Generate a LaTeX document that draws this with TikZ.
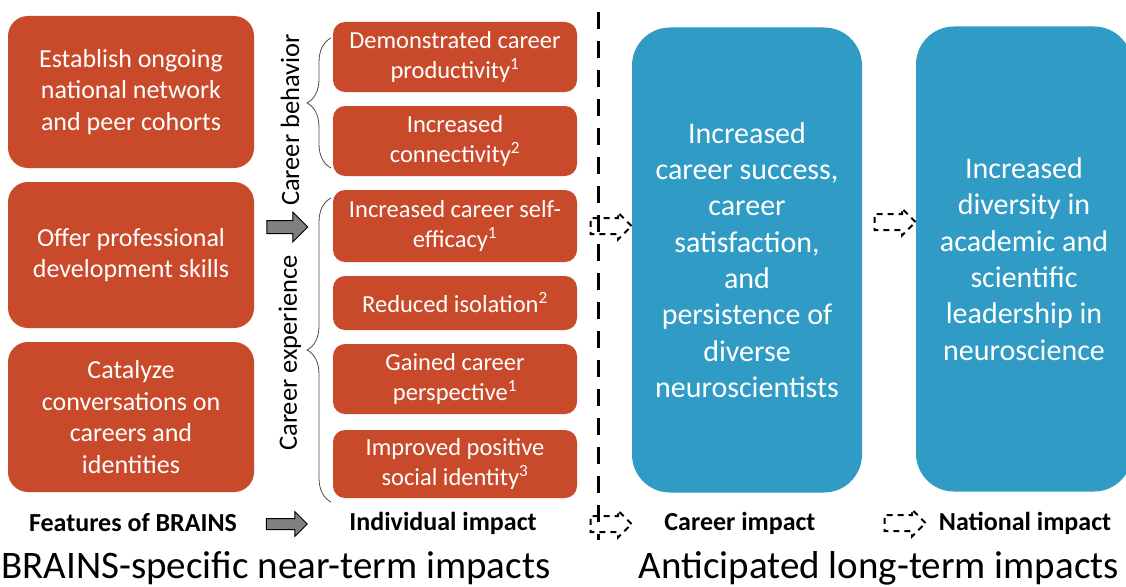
\documentclass[tikz,border=0pt]{standalone}
\usepackage{fontspec}
\setmainfont{Carlito}
\usetikzlibrary{shapes.arrows,decorations.pathreplacing,positioning}
\definecolor{brainsorange}{HTML}{C94A2B}
\definecolor{brainsblue}{HTML}{309BC4}

\begin{document}
\begin{tikzpicture}[
x=1pt,y=-1pt,
feature/.style={
  fill=brainsorange,
  draw=none,
  rounded corners=20pt,
  text=white,
  align=center,
  minimum width=246pt,
  font=\fontsize{26}{31.5}\selectfont
  },
impact/.style={
  fill=brainsorange,
  draw=none,
  rounded corners=12pt,
  text=white,
  align=center,
  minimum width=244pt,
  font=\fontsize{24.5}{30.5}\selectfont
  },
longterm/.style={
  fill=brainsblue,
  draw=none,
  rounded corners=38pt,
  text=white,
  align=center,
  minimum height=465pt,
  font=\fontsize{30}{36.3}\selectfont
  },
grayarrow/.style={
  single arrow,
  draw=black,
  fill=gray,
  line width=1pt,
  inner xsep=0pt,
  inner ysep=6pt,
  single arrow head extend=8.5pt,
  single arrow head indent=0pt,
  minimum height=41pt
  },
dasharrow/.style={
  single arrow,
  draw=black,
  fill=none,
  line width=2pt,
  dash pattern=on 6pt off 5pt,
  inner xsep=0pt,
  inner ysep=7pt,
  single arrow head extend=5.5pt,
  single arrow head indent=0pt,
  minimum height=41pt
  },
bracelabel/.style={
  rotate=90,
  font=\fontsize{26.5}{30}\selectfont
  },
heading/.style={
  font=\bfseries\fontsize{26}{30}\selectfont
  },
period/.style={
  font=\fontsize{39}{44}\selectfont
  },
brace/.style={
  decorate,
  decoration={brace,amplitude=24pt},
  draw=black!70,
  line width=0.8pt
  }
]
\clip (0,0) rectangle (1126,586);

% features of BRAINS
\node[feature, minimum height=152pt] (feat1) at (131,92)
  {Establish ongoing\\national network\\and peer cohorts};
\node[feature, minimum height=146pt] (feat2) at (131,255)
  {Offer professional\\development skills};
\node[feature, minimum height=150pt] (feat3) at (131,417)
  {Catalyze\\conversations on\\careers and\\identities};

% individual impact
\foreach \y/\h/\txt [count=\i] in {
  57/70/{Demonstrated career\\productivity\textsuperscript{1}},
  141/70/{Increased\\connectivity\textsuperscript{2}},
  226/72/{Increased career self-\\efficacy\textsuperscript{1}},
  303/54/{Reduced isolation\textsuperscript{2}},
  379/70/{Gained career\\perspective\textsuperscript{1}},
  464/68/{Improved positive\\social identity\textsuperscript{3}}}
  \node[impact, minimum height=\h pt] (ind\i) at (455,\y) {\txt};

% braces
\coordinate (behtop) at (331,38);
\coordinate (behbot) at (331,168);
\coordinate (exptop) at (331,198);
\coordinate (expbot) at (331,502);
\draw[brace] (behbot) -- (behtop);
\draw[brace] (expbot) -- (exptop);
\node[bracelabel] (behlabel) at (290,120) {Career behavior};
\node[bracelabel] (explabel) at (290,353) {Career experience};

% long-term impacts
\node[longterm, minimum width=230pt] (career) at (747,260)
  {Increased\\career success,\\career\\satisfaction,\\and\\persistence of\\diverse\\neuroscientists};
\node[longterm, minimum width=216pt] (national) at (1024,259)
  {Increased\\diversity in\\academic and\\scientific\\leadership in\\neuroscience};

% separator
\coordinate (septop) at (598,12);
\coordinate (sepbot) at (598,540);
\draw[line width=3pt, dash pattern=on 17pt off 12pt] (septop) -- (sepbot);

% arrows
\node[grayarrow] (arr1) at (284,227) {};
\node[grayarrow, inner ysep=5pt, single arrow head extend=7pt] (arr2) at (284,524) {};
\node[dasharrow] (darr1) at (607,226) {};
\node[dasharrow] (darr2) at (891,222) {};
\node[dasharrow] (darr3) at (607,524) {};
\node[dasharrow] (darr4) at (901,523) {};

% headings
\node[heading] (hfeat) at (133,523) {Features of BRAINS};
\node[heading] (hind) at (443,523) {Individual impact};
\node[heading] (hcar) at (740,523) {Career impact};
\node[heading] (hnat) at (1025,523) {National impact};
\node[period] (near) at (276,568) {BRAINS-specific near-term impacts};
\node[period] (long) at (879,568) {Anticipated long-term impacts};
\end{tikzpicture}
\end{document}
